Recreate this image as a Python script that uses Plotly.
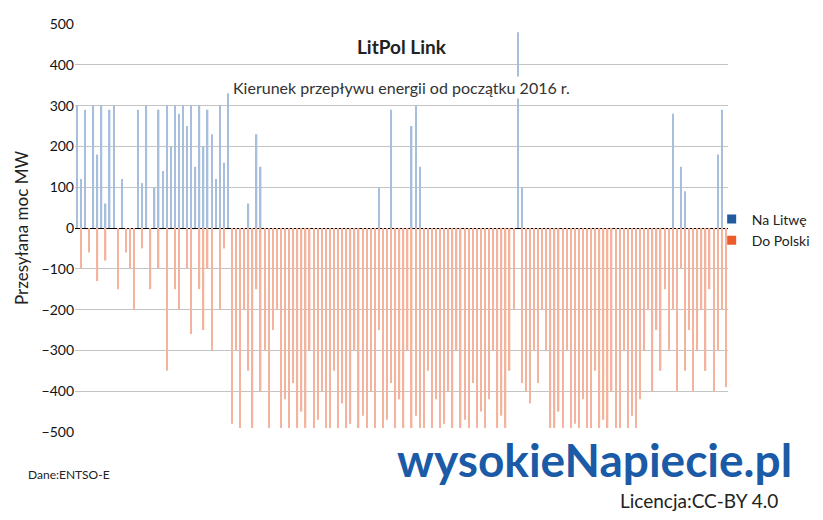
import plotly.graph_objects as go

# --- data: flow samples ---
na_litwe = [300, 120, 290, 0, 300, 180, 300, 60, 290, 300,
            0, 120, 0, 0, 0, 290, 110, 300, 0, 100,
            290, 140, 300, 200, 300, 280, 300, 250, 300, 150,
            300, 200, 290, 230, 120, 300, 160, 330, 0, 0,
            0, 0, 60, 0, 230, 150, 0, 0, 0, 0,
            0, 0, 0, 0, 0, 0, 0, 0, 0, 0,
            0, 0, 0, 0, 0, 0, 0, 0, 0, 0,
            0, 0, 0, 0, 100, 0, 0, 290, 0, 0,
            0, 0, 250, 300, 150, 0, 0, 0, 0, 0,
            0, 0, 0, 0, 0, 0, 0, 0, 0, 0,
            0, 0, 0, 0, 0, 0, 0, 0, 480, 100,
            0, 0, 0, 0, 0, 0, 0, 0, 0, 0,
            0, 0, 0, 0, 0, 0, 0, 0, 0, 0,
            0, 0, 0, 0, 0, 0, 0, 0, 0, 0,
            0, 0, 0, 0, 0, 0, 280, 0, 150, 90,
            0, 0, 0, 0, 0, 0, 0, 180, 290, 0]

do_polski = [0, -100, 0, -60, 0, -130, 0, -80, 0, 0,
             -150, 0, -60, -100, -200, 0, -50, 0, -150, 0,
             -100, 0, -350, 0, -150, -200, 0, -100, -260, 0,
             -150, -250, -100, -300, 0, -200, -50, 0, -480, -300,
             -490, -200, -350, -490, -150, -400, -300, -490, -250, -200,
             -490, -420, -490, -380, -490, -450, -490, -300, -490, -470,
             -400, -490, -490, -350, -490, -430, -490, -480, -300, -490,
             -460, -490, -400, -490, -250, -490, -470, -380, -490, -420,
             -490, -300, -490, -460, -490, -490, -350, -490, -420, -490,
             -480, -400, -490, -300, -490, -470, -490, -380, -490, -450,
             -490, -420, -300, -490, -460, -490, -350, -200, 0, -380,
             -400, -430, -300, -380, -200, -300, -490, -490, -450, -490,
             -300, -490, -480, -490, -420, -490, -490, -350, -490, -470,
             -490, -400, -490, -490, -300, -490, -460, -490, -420, -300,
             -200, -400, -250, -350, -150, -300, -200, -400, -100, -350,
             -250, -400, -300, -200, -350, -150, -400, -300, -200, -390]

slots = list(range(len(na_litwe)))
y_ticks = [500, 400, 300, 200, 100, 0, -100, -200, -300, -400, -500]

fig = go.Figure()

fig.add_trace(go.Bar(x=slots, y=na_litwe, marker_color="#a7bedd",
                     marker_line_width=0, showlegend=False))
fig.add_trace(go.Bar(x=slots, y=do_polski, marker_color="#f4b39c",
                     marker_line_width=0, showlegend=False))

# legend entries with the saturated colours
fig.add_trace(go.Scatter(x=[None], y=[None], mode="markers", name="Na Litwę",
                         marker=dict(symbol="square", size=9, color="#1f5b9e")))
fig.add_trace(go.Scatter(x=[None], y=[None], mode="markers", name="Do Polski",
                         marker=dict(symbol="square", size=9, color="#ec5a2a")))

# page body has an 8px offset, so margins are shifted accordingly
fig.update_layout(
    width=823, height=520,
    margin=dict(l=67, r=103, t=16, b=96, autoexpand=False),
    plot_bgcolor="white", paper_bgcolor="white",
    font=dict(family="Lato", size=14, color="#222"),
    barmode="overlay", bargap=0.65,
    xaxis=dict(range=[-0.5, len(slots) - 0.5], showticklabels=False,
               showgrid=False, zeroline=False, showline=False,
               automargin=False),
    yaxis=dict(range=[-500, 500], tickvals=y_ticks, showgrid=True,
               gridcolor="#c4c4c4", zeroline=True, zerolinecolor="#000",
               zerolinewidth=1.3, showline=False, automargin=False,
               ticks="", tickfont=dict(size=14, color="#111"),
               title=dict(text="Przesyłana moc MW", font=dict(size=17),
                          standoff=8)),
    legend=dict(x=0.975, y=0.56, xanchor="left", yanchor="top",
                bgcolor="rgba(0,0,0,0)",
                font=dict(size=14), itemwidth=30, tracegroupgap=4),
    annotations=[
        dict(text="<b>LitPol Link</b>", x=0.5, y=445, xref="paper", yref="y",
             showarrow=False, font=dict(size=19)),
        dict(text="Kierunek przepływu energii od początku 2016 r.", x=0.5, y=345,
             xref="paper", yref="y", showarrow=False,
             font=dict(size=16, color="#333"), bgcolor="white"),
        dict(text="Dane:ENTSO-E", x=-0.075, y=-0.08, xref="paper", yref="paper",
             xanchor="left", yanchor="top", showarrow=False,
             font=dict(size=12)),
        dict(text="wysokieNapiecie.pl", x=0.49, y=0.005, xref="paper",
             yref="paper", xanchor="left", yanchor="top", showarrow=False,
             font=dict(family="Lato", size=46, color="#1a5aa6", weight="bold")),
        dict(text="Licencja:CC-BY 4.0", x=1.08, y=-0.135, xref="paper",
             yref="paper", xanchor="right", yanchor="top", showarrow=False,
             font=dict(size=19, color="#222")),
    ],
)

fig.write_html("out.html")
